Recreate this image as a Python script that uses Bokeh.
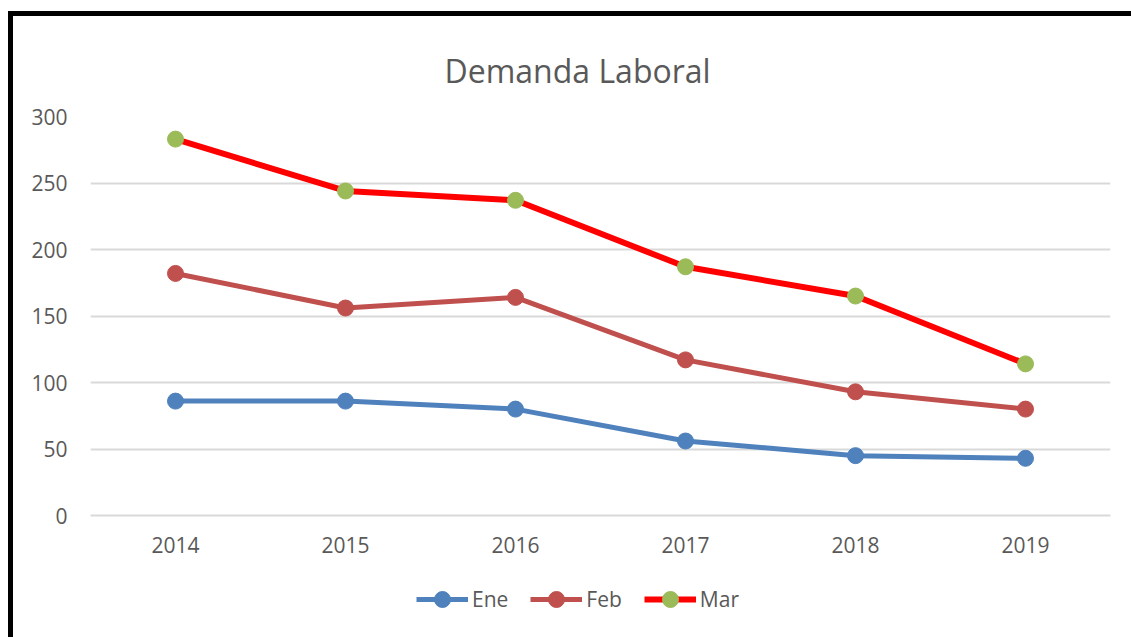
from bokeh.plotting import figure
from bokeh.layouts import column
from bokeh.models import ColumnDataSource, Legend, LegendItem, FactorRange, Range1d, FixedTicker
from bokeh.embed import file_html
from bokeh.resources import INLINE

years = ["2014", "2015", "2016", "2017", "2018", "2019"]
ene = [86, 86, 80, 56, 45, 43]
feb = [182, 156, 164, 117, 93, 80]
mar = [283, 244, 237, 187, 165, 114]
y_ticks = [0, 50, 100, 150, 200, 250, 300]
series_names = ["Ene", "Feb", "Mar"]

src = ColumnDataSource(dict(year=years, ene=ene, feb=feb, mar=mar))

FONT = "Open Sans"
GREY = "#595959"
COLORS = dict(ene="#4F81BD", feb="#C0504D", mar="#FF0000", mar_marker="#9BBB59")

p = figure(width=1118, height=554,
           x_range=FactorRange(*years, range_padding=0),
           y_range=Range1d(0, 300),
           output_backend="svg", toolbar_location=None,
           min_border_left=77, min_border_right=21,
           min_border_top=100, min_border_bottom=55,
           title="Demanda Laboral")

p.title.text_font = FONT
p.title.text_font_size = "32px"
p.title.text_font_style = "normal"
p.title.text_color = GREY
p.title.align = "left"
p.title.offset = 354
p.title.standoff = 49

p.outline_line_color = None
p.xgrid.grid_line_color = None
p.ygrid.grid_line_color = "#D9D9D9"
p.ygrid.grid_line_width = 2
p.yaxis.ticker = FixedTicker(ticks=y_ticks)

for ax in (p.xaxis[0], p.yaxis[0]):
    ax.major_tick_line_color = None
    ax.minor_tick_line_color = None
    ax.major_label_text_font = FONT
    ax.major_label_text_font_size = "21px"
    ax.major_label_text_color = GREY
p.yaxis.axis_line_color = None
p.xaxis.axis_line_color = "#D9D9D9"
p.xaxis.axis_line_width = 2
p.yaxis.major_label_standoff = 17
p.xaxis.major_label_standoff = 15

p.line("year", "ene", source=src, line_width=5, color=COLORS["ene"])
p.scatter("year", "ene", source=src, size=16, fill_color=COLORS["ene"], line_color=COLORS["ene"])
p.line("year", "feb", source=src, line_width=5, color=COLORS["feb"])
p.scatter("year", "feb", source=src, size=16, fill_color=COLORS["feb"], line_color=COLORS["feb"])
p.line("year", "mar", source=src, line_width=6, color=COLORS["mar"])
p.scatter("year", "mar", source=src, size=16, fill_color=COLORS["mar_marker"], line_color=COLORS["mar_marker"])

# legend strip below the chart (its renderers sit outside the visible range)
q = figure(width=1118, height=67, output_backend="svg", toolbar_location=None,
           x_axis_location=None, y_axis_location=None,
           min_border=0, x_range=Range1d(0, 1), y_range=Range1d(0, 1))
q.grid.visible = False
q.outline_line_color = None
hidden = ColumnDataSource(dict(x=[-10, -11], y=[-10, -11]))
lq1 = q.line("x", "y", source=hidden, line_width=5, color=COLORS["ene"])
mq1 = q.scatter("x", "y", source=hidden, size=16, fill_color=COLORS["ene"], line_color=COLORS["ene"])
lq2 = q.line("x", "y", source=hidden, line_width=5, color=COLORS["feb"])
mq2 = q.scatter("x", "y", source=hidden, size=16, fill_color=COLORS["feb"], line_color=COLORS["feb"])
lq3 = q.line("x", "y", source=hidden, line_width=6, color=COLORS["mar"])
mq3 = q.scatter("x", "y", source=hidden, size=16, fill_color=COLORS["mar_marker"], line_color=COLORS["mar_marker"])

legend = Legend(items=[LegendItem(label=series_names[0], renderers=[lq1, mq1]),
                       LegendItem(label=series_names[1], renderers=[lq2, mq2]),
                       LegendItem(label=series_names[2], renderers=[lq3, mq3])],
                orientation="horizontal", location=(326, 18),
                glyph_width=52, glyph_height=40, label_standoff=4, spacing=22,
                padding=0, margin=0, border_line_color=None,
                background_fill_alpha=0,
                label_text_font=FONT, label_text_font_size="21px",
                label_text_color=GREY)
q.add_layout(legend, "center")

layout = column(p, q, spacing=0,
                styles={"border-top": "5px solid black",
                        "border-left": "5px solid black",
                        "margin-top": "11px",
                        "margin-left": "8px"})

open("out.html", "w").write(file_html(layout, INLINE))
